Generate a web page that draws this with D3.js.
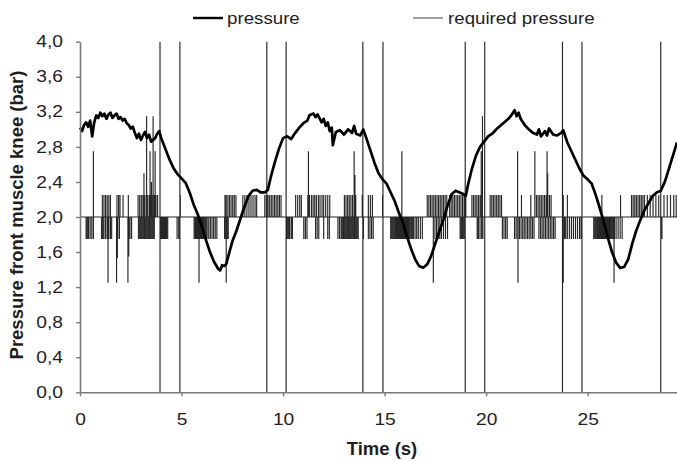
<!DOCTYPE html>
<html>
<head>
<meta charset="utf-8">
<script src="https://cdn.jsdelivr.net/npm/d3@7/dist/d3.min.js"></script>
<style>
  html, body { margin: 0; padding: 0; background: #fff; }
  svg { display: block; }
  text { font-family: "Liberation Sans", Arial, sans-serif; fill: #1e1e1e; }
</style>
</head>
<body>
<svg id="chart" width="677" height="461"></svg>
<script>
// thick line: measured pressure [time (s), bar]
var pressure = [
  [0,3.02],[0.1,2.98],[0.2,3.05],[0.3,3.08],[0.4,3.03],[0.5,3.1],[0.6,2.92],[0.7,3.08],[0.8,3.16],[0.9,3.13],
  [1.0,3.19],[1.1,3.15],[1.2,3.18],[1.3,3.12],[1.4,3.17],[1.5,3.19],[1.6,3.13],[1.7,3.16],[1.8,3.18],[1.9,3.12],
  [2.0,3.14],[2.1,3.1],[2.2,3.12],[2.3,3.07],[2.4,3.05],[2.5,3.01],[2.6,3.03],[2.7,2.96],[2.8,2.9],[2.9,2.95],
  [3.0,2.88],[3.1,2.93],[3.2,2.97],[3.3,2.9],[3.4,2.94],[3.5,2.86],[3.6,2.88],[3.7,2.9],[3.8,2.95],[3.9,2.98],
  [4.0,2.9],[4.2,2.78],[4.4,2.66],[4.6,2.56],[4.8,2.49],[5.0,2.44],[5.2,2.39],[5.4,2.28],[5.6,2.14],[5.8,2.03],
  [6.0,1.89],[6.2,1.74],[6.4,1.6],[6.6,1.49],[6.8,1.41],[6.9,1.39],[7.0,1.45],[7.1,1.44],[7.2,1.46],[7.3,1.55],
  [7.5,1.72],[7.7,1.84],[7.9,1.98],[8.1,2.12],[8.3,2.24],[8.5,2.3],[8.7,2.31],[8.9,2.28],[9.1,2.28],[9.25,2.31],
  [9.4,2.46],[9.6,2.63],[9.8,2.78],[10.0,2.9],[10.2,2.92],[10.4,2.89],[10.6,2.96],[10.8,3.02],[11.0,3.07],[11.2,3.1],
  [11.3,3.16],[11.5,3.18],[11.6,3.14],[11.7,3.17],[11.9,3.08],[12.0,3.12],[12.1,3.04],[12.2,3.08],[12.3,2.98],[12.4,3.02],
  [12.45,2.82],[12.6,2.97],[12.8,2.99],[13.0,2.94],[13.2,3.0],[13.4,2.96],[13.5,3.04],[13.6,2.95],[13.8,2.93],[13.95,3.0],
  [14.1,2.9],[14.3,2.76],[14.5,2.62],[14.7,2.5],[14.9,2.43],[15.1,2.38],[15.3,2.28],[15.5,2.18],[15.7,2.05],[15.9,1.94],
  [16.1,1.78],[16.3,1.64],[16.5,1.52],[16.7,1.44],[16.9,1.42],[17.1,1.46],[17.3,1.56],[17.5,1.7],[17.7,1.84],[17.9,1.97],
  [18.1,2.13],[18.3,2.26],[18.5,2.3],[18.7,2.28],[18.9,2.26],[19.0,2.24],[19.1,2.36],[19.3,2.55],[19.5,2.7],[19.7,2.8],
  [19.9,2.86],[20.1,2.92],[20.3,2.95],[20.5,3.0],[20.7,3.04],[20.9,3.08],[21.1,3.12],[21.3,3.18],[21.4,3.22],[21.5,3.15],
  [21.6,3.19],[21.7,3.12],[21.9,3.05],[22.1,3.0],[22.3,2.96],[22.5,2.94],[22.6,3.0],[22.7,2.92],[22.9,2.98],[23.0,2.93],
  [23.1,3.01],[23.3,2.94],[23.5,2.93],[23.7,2.96],[23.8,2.99],[24.0,2.85],[24.2,2.75],[24.4,2.65],[24.6,2.55],[24.8,2.47],
  [25.0,2.43],[25.2,2.38],[25.4,2.25],[25.6,2.1],[25.8,1.94],[26.0,1.76],[26.2,1.6],[26.4,1.48],[26.6,1.42],[26.8,1.43],
  [27.0,1.52],[27.2,1.7],[27.4,1.85],[27.6,1.97],[27.8,2.08],[28.0,2.16],[28.2,2.24],[28.4,2.28],[28.6,2.3],[28.8,2.4],
  [29.0,2.55],[29.2,2.7],[29.4,2.85]
];

// thin line: required pressure, base level with short pulses
var baseLevel = 2.0, lowLevel = 1.75, highLevel = 2.25;
var dipTimes = [
  0.30,0.36,0.42,0.50,0.58,0.66,
  1.06,1.12,1.18,1.26,1.34,1.42,1.50,1.56,1.86,1.94,2.40,2.46,2.54,
  2.88,2.94,3.00,3.06,3.12,3.18,3.24,3.30,3.36,3.42,3.48,3.54,3.60,3.66,
  3.98,4.02,4.06,4.10,4.14,4.18,4.22,4.26,4.32,4.78,4.86,
  5.62,5.68,5.72,5.76,5.80,5.84,5.88,5.92,5.96,6.00,6.04,6.08,6.14,6.20,6.26,6.34,6.42,6.50,6.58,6.66,6.74,
  7.12,7.18,7.24,7.30,
  10.20,10.26,10.32,10.40,10.46,11.02,11.10,11.18,11.60,11.68,11.76,12.00,12.20,12.28,
  12.70,12.78,12.86,12.92,12.98,13.04,13.10,13.16,13.22,13.28,13.34,13.40,13.46,13.52,13.58,13.64,13.70,
  13.96,14.20,14.28,14.36,14.44,
  15.30,15.36,15.42,15.48,15.54,15.58,15.62,15.66,15.70,15.74,15.78,15.82,15.86,15.90,15.94,15.98,
  16.02,16.06,16.10,16.14,16.18,16.24,16.30,16.36,16.42,16.50,16.58,16.66,16.76,16.86,
  17.40,17.48,17.56,17.64,17.72,17.80,17.90,18.00,18.10,
  18.72,18.78,18.84,18.90,18.96,19.56,19.62,19.70,19.78,19.84,
  20.80,20.88,20.96,21.04,
  21.40,21.48,21.56,21.64,21.72,21.80,21.88,21.96,22.04,22.12,22.20,22.28,22.36,
  22.60,22.68,22.76,22.84,22.92,23.00,23.08,23.16,23.24,23.32,23.40,
  23.80,23.86,23.92,24.00,24.10,24.20,24.30,24.40,24.50,24.60,24.68,
  25.30,25.36,25.42,25.48,25.54,25.58,25.62,25.66,25.70,25.74,25.78,25.82,25.86,25.90,25.94,25.98,
  26.02,26.06,26.10,26.14,26.20,26.26,26.32,26.40,26.50,26.60,26.70,
  28.60,28.66
];
var riseTimes = [
  1.10,1.18,1.26,1.34,1.42,1.50,1.82,1.90,1.97,2.12,2.38,
  2.86,2.94,3.02,3.10,3.18,3.26,3.34,3.42,3.50,3.58,3.66,3.74,3.82,4.94,
  7.14,7.20,7.28,7.36,7.44,7.52,7.60,7.68,8.02,8.12,8.22,8.32,8.42,8.52,8.62,8.70,
  9.10,9.18,9.26,9.34,9.42,9.50,9.58,9.66,9.74,9.82,9.90,
  10.62,10.72,10.82,10.90,
  11.22,11.30,11.40,11.48,11.56,11.64,11.74,11.82,11.92,12.00,12.10,12.20,12.30,
  13.02,13.10,13.18,13.26,13.34,13.42,13.50,13.58,13.90,14.20,14.30,14.40,14.90,
  17.10,17.18,17.26,17.34,17.42,17.50,17.58,17.66,17.74,17.82,17.90,17.98,18.06,
  18.20,18.28,18.36,18.44,18.52,18.60,18.68,18.76,18.84,18.92,19.00,
  19.30,19.38,19.46,19.54,19.62,19.70,20.20,20.28,20.36,20.44,20.52,20.60,20.68,20.76,
  21.74,22.20,22.40,22.48,22.56,22.64,22.72,22.80,22.88,22.96,23.04,23.12,23.20,
  23.80,24.00,25.70,26.62,
  27.16,27.24,27.32,27.40,27.48,27.56,27.64,27.72,27.80,27.94,28.08,28.22,28.36,28.50,
  28.76,28.92,29.08,29.24,29.36
];
// larger pulses [time, level]
var bigPulses = [
  [0.66,2.75],[1.38,1.25],[1.80,1.25],[1.84,1.53],[2.36,1.25],[2.40,1.55],[3.15,2.5],[3.28,3.15],
  [3.45,2.75],[3.52,2.4],[3.60,3.15],[3.70,2.75],[5.86,1.25],[7.20,1.25],[11.25,2.75],[13.50,2.75],
  [13.54,2.48],[15.85,2.75],[17.40,1.25],[19.76,2.75],[19.82,3.15],[21.55,2.75],[21.57,1.25],
  [22.40,2.75],[23.00,2.75],[23.03,2.5],[23.80,1.25],[26.30,1.25]
];
// pulses running the full range 4 -> 0
var fullPulseTimes = [3.94,4.92,9.20,10.15,13.93,14.92,18.97,19.93,23.76,24.72,28.60];

var xTicks = [0, 5, 10, 15, 20, 25];
var yTicks = [0, 0.4, 0.8, 1.2, 1.6, 2.0, 2.4, 2.8, 3.2, 3.6, 4.0];

var svg = d3.select('#chart');
var x = d3.scaleLinear().domain([0, 29.4]).range([80, 677]);
var y = d3.scaleLinear().domain([0, 4]).range([392.3, 41.7]);
var comma = d3.formatLocale({decimal: ',', thousands: '.', grouping: [3], currency: ['', '']}).format('.1f');

// build the required pressure trace from the pulse lists
var events = [];
dipTimes.forEach(function(t) { events.push({t: t, levels: [lowLevel]}); });
riseTimes.forEach(function(t) { events.push({t: t, levels: [highLevel]}); });
bigPulses.forEach(function(p) { events.push({t: p[0], levels: [p[1]]}); });
fullPulseTimes.forEach(function(t) { events.push({t: t, levels: [4, 0]}); });
events.sort(function(a, b) { return a.t - b.t; });
var required = [[0, baseLevel]];
events.forEach(function(e) {
  required.push([e.t, baseLevel]);
  e.levels.forEach(function(v) { required.push([e.t, v]); });
  required.push([e.t, baseLevel]);
});
required.push([29.4, baseLevel]);

function stretch(sel, k) {
  sel.each(function() {
    var w = this.getComputedTextLength();
    d3.select(this).attr('textLength', w * k).attr('lengthAdjust', 'spacingAndGlyphs');
  });
}

var line = d3.line().x(function(d) { return x(d[0]); }).y(function(d) { return y(d[1]); });

svg.append('path')
  .datum(required)
  .attr('d', line)
  .attr('fill', 'none')
  .attr('stroke', '#262626')
  .attr('stroke-width', 1.15);

svg.append('path')
  .datum(pressure)
  .attr('d', line)
  .attr('fill', 'none')
  .attr('stroke', '#000')
  .attr('stroke-width', 2.7)
  .attr('stroke-linejoin', 'round');

// axes
var yAxis = svg.append('g')
  .attr('transform', 'translate(80,0)')
  .call(d3.axisLeft(y).tickValues(yTicks).tickFormat(comma).tickSize(4).tickSizeOuter(0).tickPadding(13));
var xAxis = svg.append('g')
  .attr('transform', 'translate(0,392.3)')
  .call(d3.axisBottom(x).tickValues(xTicks).tickSize(4).tickSizeOuter(0).tickPadding(17));
[yAxis, xAxis].forEach(function(g) {
  g.select('.domain').attr('stroke', '#7a7a7a').attr('stroke-width', 1.6);
  g.selectAll('.tick line').attr('stroke', '#7a7a7a').attr('stroke-width', 1.4);
  g.selectAll('.tick text').attr('font-size', 16).attr('fill', '#222')
    .style('font-family', '"Liberation Sans", Arial, sans-serif');
  stretch(g.selectAll('.tick text'), 1.2);
});

// axis titles
svg.append('text')
  .attr('x', 382).attr('y', 455)
  .attr('text-anchor', 'middle')
  .attr('font-size', 18.5).attr('font-weight', 'bold')
  .text('Time (s)');
svg.append('text')
  .attr('transform', 'translate(23,215) rotate(-90)')
  .attr('text-anchor', 'middle')
  .attr('font-size', 18.5).attr('font-weight', 'bold')
  .text('Pressure front muscle knee (bar)');

// legend
svg.append('line').attr('x1', 193).attr('x2', 223).attr('y1', 18).attr('y2', 18)
  .attr('stroke', '#000').attr('stroke-width', 2.4);
var l1 = svg.append('text').attr('x', 227).attr('y', 24).attr('font-size', 17).text('pressure');
svg.append('line').attr('x1', 413).attr('x2', 443).attr('y1', 18).attr('y2', 18)
  .attr('stroke', '#3c3c3c').attr('stroke-width', 1);
var l2 = svg.append('text').attr('x', 448).attr('y', 24).attr('font-size', 17).text('required pressure');
stretch(l1, 1.1);
stretch(l2, 1.1);
</script>
</body>
</html>
